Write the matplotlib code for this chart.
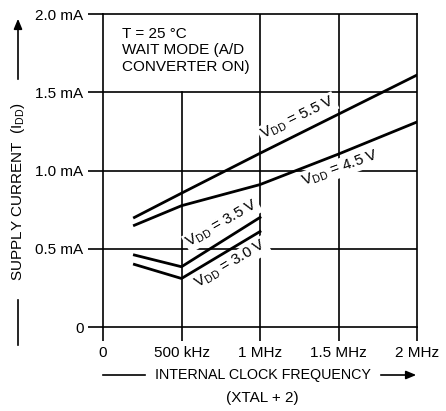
import matplotlib
matplotlib.use("Agg")
import matplotlib.pyplot as plt

plt.rcParams['font.family'] = ['Liberation Sans Narrow', 'Liberation Sans', 'DejaVu Sans']
plt.rcParams['mathtext.default'] = 'regular'

# Data (frequency in MHz, current in mA)
freq_hi = [0.2, 0.5, 1.0, 1.5, 2.0]
idd_55 = [0.70, 0.855, 1.11, 1.36, 1.61]
idd_45 = [0.65, 0.775, 0.91, 1.105, 1.31]
freq_lo = [0.2, 0.5, 1.0]
idd_35 = [0.46, 0.385, 0.70]
idd_30 = [0.40, 0.31, 0.61]

x_ticks = [0, 0.5, 1.0, 1.5, 2.0]
x_labels = ['0', '500 kHz', '1 MHz', '1.5 MHz', '2 MHz']
y_ticks = [0, 0.5, 1.0, 1.5, 2.0]
y_labels = ['0', '0.5 mA', '1.0 mA', '1.5 mA', '2.0 mA']

fig = plt.figure(figsize=(4.46, 4.11), dpi=100)
ax = fig.add_axes([103/446, 1-327/411, (417-103)/446, (327-14)/411])
ax.set_xlim(0, 2.0)
ax.set_ylim(0, 2.0)

FS = 11
lw_grid = 1.2
for s in ax.spines.values():
    s.set_linewidth(lw_grid)

ax.set_xticks(x_ticks)
ax.set_xticklabels(x_labels, fontsize=FS)
ax.set_yticks(y_ticks)
ax.set_yticklabels(y_labels, fontsize=FS)
ax.tick_params(axis='x', direction='out', length=10, width=lw_grid, pad=4)
ax.tick_params(axis='y', direction='out', length=11, width=lw_grid, pad=3)

# grid lines
for y in [0.5, 1.0, 1.5]:
    ax.axhline(y, color='black', lw=lw_grid, zorder=1)
ax.axvline(0.5, ymax=0.75, color='black', lw=lw_grid, zorder=1)
for x in [1.0, 1.5]:
    ax.axvline(x, color='black', lw=lw_grid, zorder=1)

lw = 2.0
ax.plot(freq_hi, idd_55, color='black', lw=lw, zorder=3)
ax.plot(freq_hi, idd_45, color='black', lw=lw, zorder=3)
ax.plot(freq_lo, idd_35, color='black', lw=lw, zorder=3)
ax.plot(freq_lo, idd_30, color='black', lw=lw, zorder=3)

bb = dict(facecolor='white', edgecolor='none', pad=1.0)
ax.text(1.24, 1.335, r'V$_{DD}$ = 5.5 V', rotation=26, ha='center', va='center',
        fontsize=FS, rotation_mode='anchor', bbox=bb, zorder=2)
ax.text(1.51, 1.016, r'V$_{DD}$ = 4.5 V', rotation=20, ha='center', va='center',
        fontsize=FS, rotation_mode='anchor', bbox=bb, zorder=2)
ax.text(0.758, 0.658, r'V$_{DD}$ = 3.5 V', rotation=30, ha='center', va='center',
        fontsize=FS, rotation_mode='anchor', bbox=bb, zorder=2)
ax.text(0.815, 0.40, r'V$_{DD}$ = 3.0 V', rotation=31, ha='center', va='center',
        fontsize=FS, rotation_mode='anchor', bbox=bb, zorder=2)

ax.text(0.121, 1.92, 'T = 25 °C\nWAIT MODE (A/D\nCONVERTER ON)', ha='left', va='top',
        fontsize=FS, linespacing=1.25)

# axis labels with arrows
fig.text(263/446, 1-375/411, 'INTERNAL CLOCK FREQUENCY', ha='center', va='center', fontsize=10.3)
fig.text(262/446, 1-398/411, '(XTAL + 2)', ha='center', va='center', fontsize=FS)
fig.add_artist(plt.Line2D([103/446, 145/446], [1-375/411, 1-375/411], color='black', lw=1.2))
fig.add_artist(matplotlib.patches.FancyArrowPatch((378/446, 1-375/411), (419/446, 1-375/411),
               transform=fig.transFigure, arrowstyle='-|>,head_length=6,head_width=2.5',
               color='black', lw=1.2, mutation_scale=1))

fig.text(18/446, 1-192/411, r'SUPPLY CURRENT  (I$_{DD}$)', rotation=90, ha='center', va='center', fontsize=FS)
fig.add_artist(plt.Line2D([18/446, 18/446], [1-300/411, 1-345/411], color='black', lw=1.2))
fig.add_artist(matplotlib.patches.FancyArrowPatch((18/446, 1-82/411), (18/446, 1-16/411),
               transform=fig.transFigure, arrowstyle='-|>,head_length=6,head_width=2.5',
               color='black', lw=1.2, mutation_scale=1))

fig.savefig('out.png', dpi=100)
